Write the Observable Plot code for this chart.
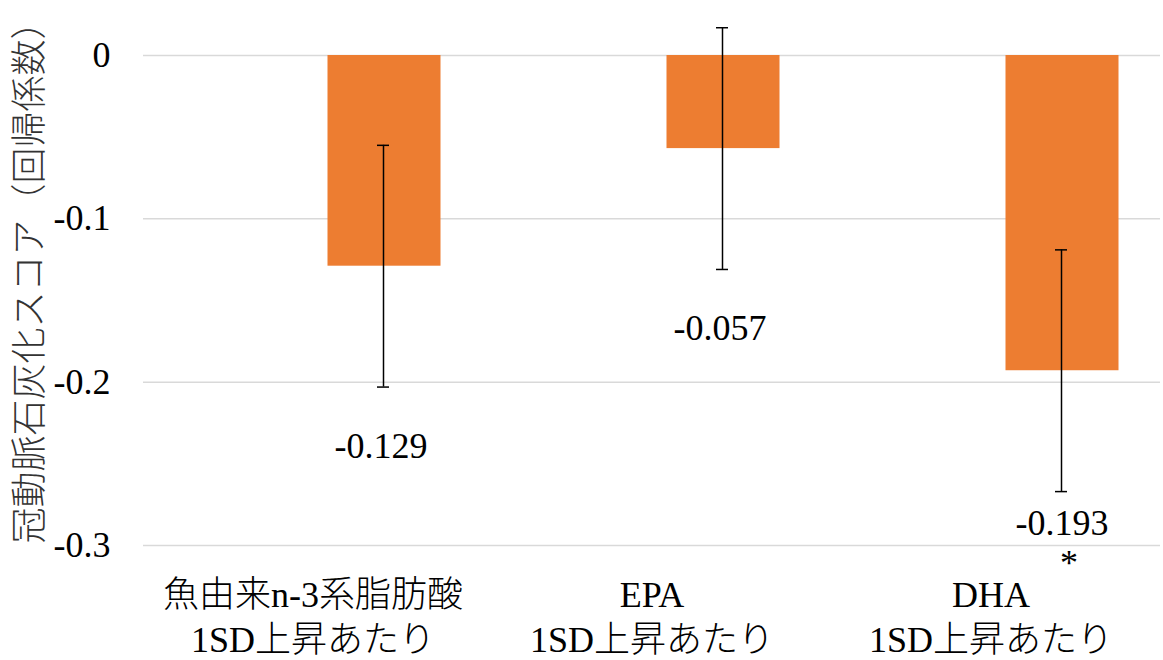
<!DOCTYPE html>
<html><head><meta charset="utf-8">
<script src="https://cdn.jsdelivr.net/npm/d3@7"></script>
<script src="https://cdn.jsdelivr.net/npm/@observablehq/plot@0.6"></script>
<style>body{margin:0;background:#fff}</style>
</head><body><div id="chart"></div>
<script>
const categories = ["魚由来n-3系脂肪酸", "EPA", "DHA"];
const subLabel = "1SD上昇あたり";
const values = [-0.129, -0.057, -0.193];
const lower = [-0.203, -0.131, -0.267];
const upper = [-0.055, 0.017, -0.119];
const valueLabels = ["-0.129", "-0.057", "-0.193"];
const significance = ["", "", "*"];
const yTicks = [0, -0.1, -0.2, -0.3];
const yTitle = "冠動脈石灰化スコア（回帰係数）";

const data = categories.map((c, i) => ({
  cat: c, value: values[i], lo: lower[i], hi: upper[i],
  label: valueLabels[i], sig: significance[i], idx: i
}));

const font = "'Liberation Serif', 'Noto Sans CJK JP', serif";
const off = 71;

const chart = Plot.plot({
  width: 1163,
  height: 660,
  marginTop: 55,
  marginBottom: 115,
  marginLeft: 143,
  marginRight: 3,
  style: {fontFamily: font, fontSize: "36px", fontWeight: 300, color: "#000", background: "#fff"},
  x: {domain: categories, paddingInner: 2/3, paddingOuter: 1/3, label: null},
  y: {domain: [-0.3, 0], label: null},
  marks: [
    Plot.gridY(yTicks, {stroke: "#d9d9d9", strokeOpacity: 1, strokeWidth: 1.5}),
    Plot.axisY({ticks: yTicks, tickSize: 0, tickPadding: 33, tickFormat: d => String(d), fontSize: 36, label: null}),
    Plot.axisX({tickSize: 0, tickPadding: 30, fontSize: 36, lineHeight: 1.25, tickFormat: d => d + "\n" + subLabel, label: null}),
    Plot.barY(data, {x: "cat", y: "value", fill: "#ED7D31", dx: off + 0.5}),
    Plot.ruleX(data, {x: "cat", y1: "lo", y2: "hi", stroke: "#000", strokeWidth: 1.5, dx: off - 0.5}),
    Plot.tickY(data, {x: "cat", y: "lo", stroke: "#000", strokeWidth: 1.5, insetLeft: 50.5, insetRight: 50.5, dx: off - 0.5}),
    Plot.tickY(data, {x: "cat", y: "hi", stroke: "#000", strokeWidth: 1.5, insetLeft: 50.5, insetRight: 50.5, dx: off - 0.5}),
    Plot.text(data.filter(d => d.idx < 2), {x: "cat", y: "lo", text: "label", dx: off - 3, dy: 59, fontSize: 36, fill: "#000"}),
    Plot.text(data.filter(d => d.idx === 2), {x: "cat", y: "lo", text: "label", dx: off, dy: 32, fontSize: 36, fill: "#000"}),
    Plot.text(data, {x: "cat", y: "lo", text: "sig", dx: off + 7, dy: 72, fontSize: 36, fill: "#000"}),
    Plot.text([yTitle], {frameAnchor: "left", textAnchor: "middle", rotate: -90, dx: -113, dy: -27, fontSize: 36, fill: "#333"})
  ]
});
document.getElementById("chart").append(chart);
</script>
</body></html>
